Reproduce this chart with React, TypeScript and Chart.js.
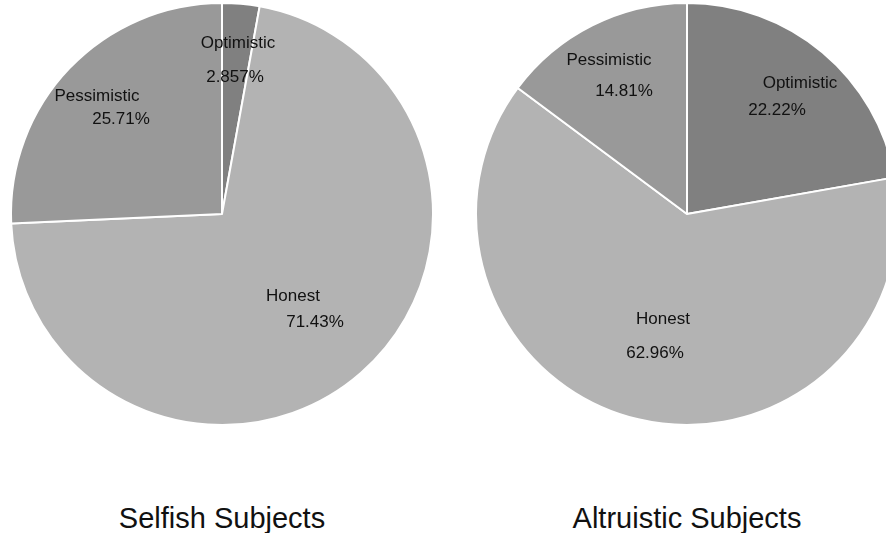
import React, { useEffect, useRef } from "react";
import { Chart, registerables } from "chart.js";

Chart.register(...registerables);

// Response categories, in clockwise order from 12 o'clock
const categories = ["Optimistic", "Honest", "Pessimistic"];
const selfishPercent = [2.857, 71.43, 25.71];
const altruisticPercent = [22.22, 62.96, 14.81];
const sliceColors = ["#808080", "#b3b3b3", "#999999"];

// Label placement relative to the pie centre: [name dx, name dy, value dx, value dy]
const selfishLabelOffsets = [
  [16, -171, 13, -137],
  [71, 82, 93, 108],
  [-125, -118, -101, -95],
];
const altruisticLabelOffsets = [
  [113, -131, 90, -104],
  [-24, 105, -32, 139],
  [-78, -154, -63, -123],
];

const FONT = "'Liberation Sans', Arial, Helvetica, sans-serif";
const SIZE = 430;
const RADIUS = 211;

const sliceLabels = {
  id: "sliceLabels",
  afterDraw(chart: any, _args: any, opts: any) {
    const ctx = chart.ctx;
    const meta = chart.getDatasetMeta(0);
    const values = chart.data.datasets[0].data as number[];
    ctx.save();
    ctx.fillStyle = "#111";
    ctx.font = `17px ${FONT}`;
    ctx.textAlign = "center";
    ctx.textBaseline = "middle";
    meta.data.forEach((arc: any, i: number) => {
      const [nx, ny, vx, vy] = opts.offsets[i];
      ctx.fillText(String(chart.data.labels[i]), arc.x + nx, arc.y + ny);
      ctx.fillText(`${values[i]}%`, arc.x + vx, arc.y + vy);
    });
    ctx.restore();
  },
};

function Pie({ values, offsets, left }: { values: number[]; offsets: number[][]; left: number }) {
  const ref = useRef<HTMLCanvasElement>(null);
  useEffect(() => {
    const chart = new Chart(ref.current as HTMLCanvasElement, {
      type: "pie",
      data: {
        labels: categories,
        datasets: [
          {
            data: values,
            backgroundColor: sliceColors,
            borderColor: "#ffffff",
            borderWidth: 2,
          },
        ],
      },
      options: {
        responsive: false,
        animation: false,
        radius: RADIUS,
        layout: { padding: 0 },
        plugins: {
          legend: { display: false },
          tooltip: { enabled: false },
          sliceLabels: { offsets },
        } as any,
      },
      plugins: [sliceLabels],
    });
    return () => chart.destroy();
  }, []);
  return (
    <canvas
      ref={ref}
      width={SIZE}
      height={SIZE}
      style={{ position: "absolute", left, top: -1, width: SIZE, height: SIZE }}
    />
  );
}

const titleStyle = (cx: number): React.CSSProperties => ({
  position: "absolute",
  left: cx - 200,
  width: 400,
  top: 500,
  textAlign: "center",
  fontFamily: FONT,
  fontSize: 29,
  lineHeight: "36px",
  color: "#111",
});

export default function App() {
  return (
    <div
      style={{
        position: "fixed",
        left: 0,
        top: 0,
        width: 886,
        height: 533,
        overflow: "hidden",
        background: "#fff",
      }}
    >
      <Pie values={selfishPercent} offsets={selfishLabelOffsets} left={222 - SIZE / 2} />
      <Pie values={altruisticPercent} offsets={altruisticLabelOffsets} left={687 - SIZE / 2} />
      <div style={titleStyle(222)}>Selfish Subjects</div>
      <div style={titleStyle(687)}>Altruistic Subjects</div>
    </div>
  );
}
